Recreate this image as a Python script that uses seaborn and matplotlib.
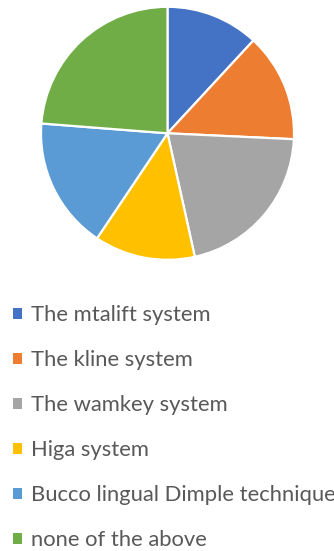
import matplotlib
matplotlib.use("Agg")
import matplotlib.pyplot as plt
import seaborn as sns

categories = ["The mtalift system", "The kline system", "The wamkey system",
              "Higa system", "Bucco lingual Dimple technique", "none of the above"]
values = [12, 14, 21, 13, 17, 24]
colors = ["#4472C4", "#ED7D31", "#A5A5A5", "#FFC000", "#5B9BD5", "#70AD47"]

sns.set_style("white")
plt.rcParams['font.family'] = ['Lato', 'DejaVu Sans']

W, H = 334, 551
fig = plt.figure(figsize=(W / 100, H / 100), dpi=100)
cx, cy, r = 167.5, 133.3, 126.5
ax = fig.add_axes([(cx - r) / W, 1 - (cy + r) / H, 2 * r / W, 2 * r / H])
wedges, _ = ax.pie(values, colors=colors, startangle=90, counterclock=False,
                   radius=1, wedgeprops=dict(edgecolor="white", linewidth=1.6))
ax.set_xlim(-1, 1)
ax.set_ylim(-1, 1)
ax.set_aspect("equal")
ax.axis("off")

leg = fig.legend(wedges, categories, loc="upper left",
                 bbox_to_anchor=(2.0 / W, 1 - 294 / H), frameon=False,
                 fontsize=15.8, handlelength=0.4, handleheight=0.4,
                 handletextpad=0.4, labelspacing=1.14, borderaxespad=0,
                 borderpad=0.5, labelcolor="#595959")
for h in leg.legend_handles:
    h.set_edgecolor("none")

fig.savefig("out.png", dpi=100, facecolor="white")
